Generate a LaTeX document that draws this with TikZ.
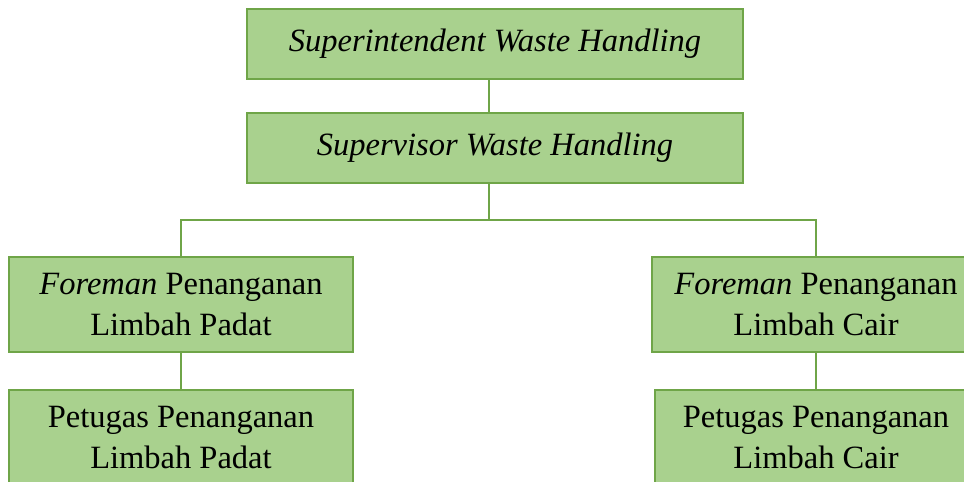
\documentclass[tikz,border=0pt]{standalone}
\usepackage{fontspec}
\setmainfont{Liberation Serif}
\definecolor{isi}{HTML}{A9D18E}
\definecolor{garis}{HTML}{6FA548}
\begin{document}
\begin{tikzpicture}[x=1pt,y=-1pt,
  kotak/.style={draw=garis, fill=isi, line width=1.2pt, align=center, inner sep=0pt,
    font=\fontsize{32.5}{41}\selectfont},
  hubung/.style={draw=garis, line width=1.4pt}]
\clip (0,0) rectangle (964,482);
\node[kotak, minimum width=496pt, minimum height=70pt] (sup) at (495,44) {\textit{Superintendent Waste Handling}};
\node[kotak, minimum width=496pt, minimum height=70pt] (spv) at (495,148) {\textit{Supervisor Waste Handling}};
\node[kotak, minimum width=344pt, minimum height=95pt] (fpadat) at (181,304.5) {\textit{Foreman} Penanganan\\Limbah Padat};
\node[kotak, minimum width=328pt, minimum height=95pt] (fcair) at (816,304.5) {\textit{Foreman} Penanganan\\Limbah Cair};
\node[kotak, minimum width=344pt, minimum height=96pt] (ppadat) at (181,438) {Petugas Penanganan\\Limbah Padat};
\node[kotak, minimum width=322pt, minimum height=96pt] (pcair) at (816,438) {Petugas Penanganan\\Limbah Cair};

\coordinate (cabang) at (489,220);
\draw[hubung] (sup.south -| cabang) -- (spv.north -| cabang);
\draw[hubung] (spv.south -| cabang) -- (cabang);
\draw[hubung] (fpadat.north) |- (cabang) -| (fcair.north);
\draw[hubung] (fpadat.south) -- (ppadat.north);
\draw[hubung] (fcair.south) -- (pcair.north);
\end{tikzpicture}
\end{document}
